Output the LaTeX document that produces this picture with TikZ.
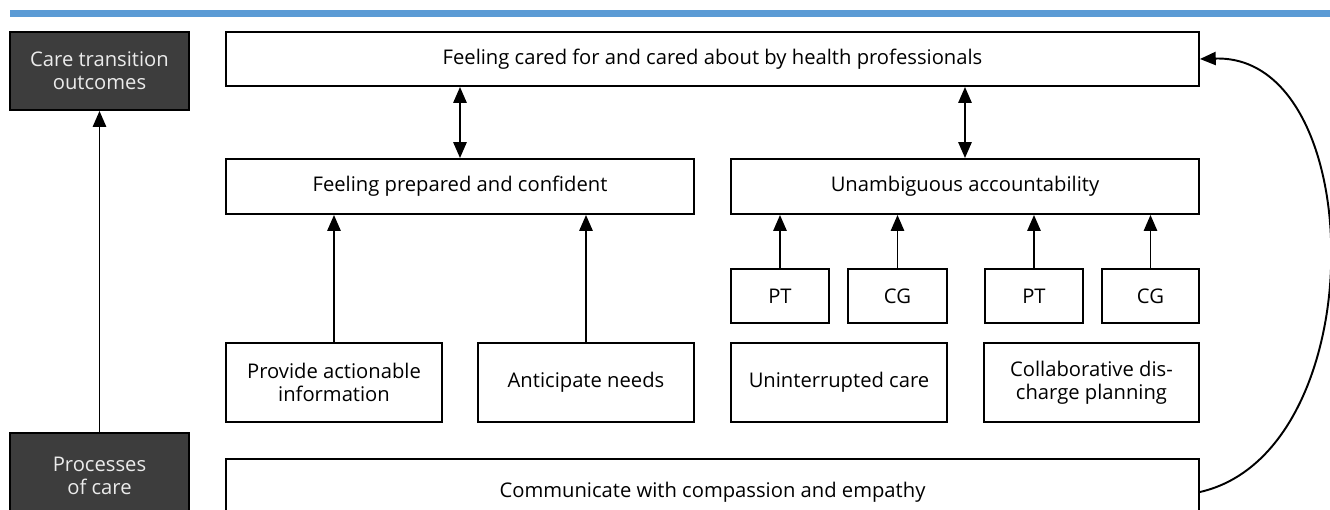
\documentclass[tikz,border=0pt]{standalone}
\usepackage{fontspec}
\setmainfont{Open Sans}
\usetikzlibrary{arrows.meta}
\definecolor{barblue}{HTML}{5B9BD5}
\definecolor{darkbox}{HTML}{3D3D3D}
\begin{document}
\begin{tikzpicture}[x=0.02cm, y=-0.02cm,
	box/.style={draw, line width=1.1pt, fill=white, align=center, inner sep=0pt,
		font=\fontsize{11.5}{13}\selectfont},
	headbox/.style={box, fill=darkbox, text=white!92!black},
	arr/.style={line width=1.1pt, -{Triangle[length=9pt, width=7.5pt]}},
	dblarr/.style={line width=1.1pt, {Triangle[length=9pt, width=7.5pt]}-{Triangle[length=9pt, width=7.5pt]}}]
	\useasboundingbox (0,0) rectangle (1330,510);
	\clip (0,0) rectangle (1330,510);
	\fill[barblue] (10,10) rectangle (1330,17);
	% left column
	\node[headbox, minimum width=179*0.02cm, minimum height=78*0.02cm] (outc) at (99.5,71) {Care transition\\outcomes};
	\node[headbox, minimum width=179*0.02cm, minimum height=86*0.02cm] (proc) at (99.5,476) {Processes\\of care};
	% outcomes
	\node[box, minimum width=973*0.02cm, minimum height=54*0.02cm] (cared) at (712.5,59) {Feeling cared for and cared about by health professionals};
	\node[box, minimum width=468*0.02cm, minimum height=55*0.02cm] (prep) at (460,186.5) {Feeling prepared and confident};
	\node[box, minimum width=468*0.02cm, minimum height=55*0.02cm] (unamb) at (965,186.5) {Unambiguous accountability};
	% PT / CG
	\node[box, minimum width=98*0.02cm, minimum height=54*0.02cm] (pta) at (780,296) {PT};
	\node[box, minimum width=99*0.02cm, minimum height=54*0.02cm] (cga) at (897.5,296) {CG};
	\node[box, minimum width=98*0.02cm, minimum height=54*0.02cm] (ptb) at (1034,296) {PT};
	\node[box, minimum width=97*0.02cm, minimum height=54*0.02cm] (cgb) at (1150.5,296) {CG};
	% processes
	\node[box, minimum width=216*0.02cm, minimum height=79*0.02cm] (info) at (334,382.5) {Provide actionable\\information};
	\node[box, minimum width=216*0.02cm, minimum height=79*0.02cm] (needs) at (586,382.5) {Anticipate needs};
	\node[box, minimum width=216*0.02cm, minimum height=79*0.02cm] (uninter) at (839,382.5) {Uninterrupted care};
	\node[box, minimum width=215*0.02cm, minimum height=79*0.02cm] (collab) at (1091.5,382.5) {Collaborative dis-\\charge planning};
	\node[box, minimum width=973*0.02cm, minimum height=66*0.02cm] (comm) at (712.5,492) {Communicate with compassion and empathy};
	% connectors
	\draw[arr] (proc.north) -- (outc.south);
	\draw[dblarr] (prep.north) -- (prep.north |- cared.south);
	\draw[dblarr] (unamb.north) -- (unamb.north |- cared.south);
	\draw[arr] (info.north) -- (info.north |- prep.south);
	\draw[arr] (needs.north) -- (needs.north |- prep.south);
	\foreach \n in {pta,cga,ptb,cgb}
		\draw[arr] (\n.north) -- (\n.north |- unamb.south);
	\draw[arr] (comm.east) .. controls +(175,-40) and +(170,-5) .. (cared.east);
\end{tikzpicture}
\end{document}
